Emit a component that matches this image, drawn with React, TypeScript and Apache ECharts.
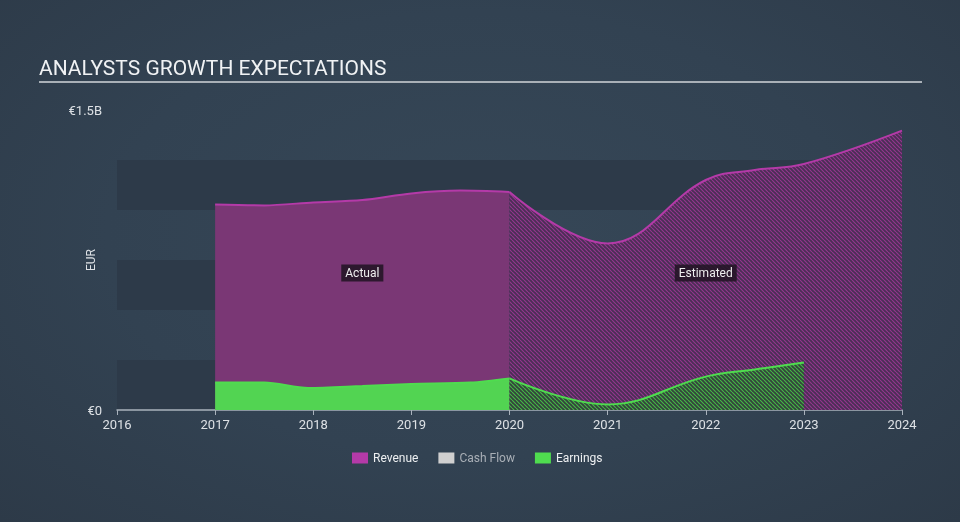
import React, { useEffect, useRef } from 'react';
import * as echarts from 'echarts';

// Values in € billions
const yearsActual = [2017, 2017.5, 2018, 2018.5, 2019, 2019.5, 2020];
const revenueActual = [1.028, 1.023, 1.038, 1.05, 1.083, 1.097, 1.09];
const earningsYearsActual = [2017, 2017.5, 2017.95, 2018.5, 2019, 2019.6, 2020];
const earningsActual = [0.138, 0.138, 0.11, 0.12, 0.13, 0.137, 0.158];
const yearsEstimated = [2020, 2021, 2022, 2022.5, 2023, 2024];
const revenueEstimated = [1.09, 0.833, 1.15, 1.2, 1.23, 1.397];
const earningsYearsEstimated = [2020, 2021, 2022, 2022.5, 2023];
const earningsEstimated = [0.158, 0.028, 0.167, 0.203, 0.237];
const legendNames = ['Revenue', 'Cash Flow', 'Earnings'];
const periodLabels = ['Actual', 'Estimated'];
const periodLabelCoords = [[2018.5, 0.685], [2022, 0.685]];

const FONT = 'Roboto, "Noto Sans", sans-serif';
const PURPLE = '#b43aa8';
const GREEN = '#4fdc4f';

function hatch(bg: string, fg: string, lw: number) {
  const s = 4;
  const c = document.createElement('canvas');
  c.width = s;
  c.height = s;
  const ctx = c.getContext('2d')!;
  ctx.fillStyle = bg;
  ctx.fillRect(0, 0, s, s);
  ctx.strokeStyle = fg;
  ctx.lineWidth = lw;
  ctx.beginPath();
  for (const k of [-1, 0, 1]) {
    ctx.moveTo(k * s, 0);
    ctx.lineTo(k * s + s, s);
  }
  ctx.stroke();
  return { image: c, repeat: 'repeat' } as any;
}

const zip = (xs: number[], ys: number[]) => xs.map((x, i) => [x, ys[i]]);

export default function App() {
  const ref = useRef<HTMLDivElement>(null);
  useEffect(() => {
    if (!ref.current) return;
    const chart = echarts.init(ref.current, undefined, { renderer: 'svg' });
    const labelStyle = {
      show: true,
      position: 'inside',
      color: '#eeeeee',
      fontSize: 12,
      fontFamily: FONT,
      backgroundColor: 'rgba(34,20,36,0.88)',
      padding: [3, 4, 2, 4],
    };
    chart.setOption({
      animation: false,
      backgroundColor: 'transparent',
      textStyle: { fontFamily: FONT },
      graphic: [
        {
          type: 'text',
          left: 39,
          top: 57,
          style: { text: 'ANALYSTS GROWTH EXPECTATIONS', fill: '#f0f2f4', font: `21px ${FONT}` },
        },
        { type: 'rect', shape: { x: 39, y: 81, width: 883, height: 2 }, style: { fill: '#a9b0b7' } },
      ],
      grid: { left: 117, right: 58, top: 110, bottom: 112 },
      legend: {
        left: 352,
        top: 452,
        padding: 0,
        icon: 'rect',
        itemWidth: 16,
        itemHeight: 11,
        itemGap: 20,
        textStyle: { color: '#eef0f2', fontSize: 12, fontFamily: FONT },
        data: [
          { name: legendNames[0], itemStyle: { color: PURPLE } },
          { name: legendNames[1], itemStyle: { color: '#d0d0d0' }, textStyle: { color: '#a9afb6' } },
          { name: legendNames[2], itemStyle: { color: GREEN } },
        ],
      },
      xAxis: {
        type: 'value',
        min: 2016,
        max: 2024,
        interval: 1,
        axisLine: { lineStyle: { color: '#a9b2bc', width: 1.5 } },
        axisTick: { show: true, length: 5, lineStyle: { color: '#a9b2bc' } },
        axisLabel: { color: '#dde1e5', fontSize: 13, margin: 8, formatter: (v: number) => String(v) },
        splitLine: { show: false },
      },
      yAxis: {
        type: 'value',
        min: 0,
        max: 1.5,
        interval: 0.25,
        name: 'EUR',
        nameLocation: 'middle',
        nameRotate: 90,
        nameGap: 20,
        nameMoveOverlap: false,
        nameTextStyle: { color: '#dde1e5', fontSize: 12, fontFamily: FONT },
        axisLine: { show: false },
        axisTick: { show: false },
        axisLabel: {
          color: '#dde1e5',
          fontSize: 13,
          margin: 15,
          formatter: (v: number) => (v === 0 ? '€0' : Math.abs(v - 1.5) < 1e-6 ? '€1.5B' : ''),
        },
        splitLine: { show: false },
        splitArea: { show: true, areaStyle: { color: ['#2d3a49', 'rgba(0,0,0,0)'] } },
      },
      series: [
        {
          name: legendNames[0],
          type: 'line',
          data: zip(yearsActual, revenueActual),
          smooth: 0.3,
          symbol: 'none',
          itemStyle: { color: PURPLE },
          lineStyle: { color: PURPLE, width: 2 },
          areaStyle: { color: '#7a3775', opacity: 1 },
          z: 2,
          markPoint: {
            symbol: 'rect',
            symbolSize: 1,
            itemStyle: { color: 'rgba(0,0,0,0)' },
            label: { ...labelStyle, formatter: periodLabels[0] },
            data: [{ name: periodLabels[0], coord: periodLabelCoords[0] }],
          },
        },
        {
          name: legendNames[0],
          type: 'line',
          data: zip(yearsEstimated, revenueEstimated),
          smooth: 0.4,
          symbol: 'none',
          itemStyle: { color: PURPLE },
          lineStyle: { color: PURPLE, width: 2 },
          areaStyle: { color: hatch('#4a2f55', '#94368e', 1.2), opacity: 1 },
          z: 2,
          markPoint: {
            symbol: 'rect',
            symbolSize: 1,
            itemStyle: { color: 'rgba(0,0,0,0)' },
            label: { ...labelStyle, formatter: periodLabels[1] },
            data: [{ name: periodLabels[1], coord: periodLabelCoords[1] }],
          },
        },
        {
          name: legendNames[1],
          type: 'line',
          data: [],
          symbol: 'none',
          itemStyle: { color: '#d0d0d0' },
        },
        {
          name: legendNames[2],
          type: 'line',
          data: zip(earningsYearsActual, earningsActual),
          smooth: 0.3,
          symbol: 'none',
          itemStyle: { color: GREEN },
          lineStyle: { color: GREEN, width: 2 },
          areaStyle: { color: '#52d452', opacity: 1 },
          z: 3,
        },
        {
          name: legendNames[2],
          type: 'line',
          data: zip(earningsYearsEstimated, earningsEstimated),
          smooth: 0.4,
          symbol: 'none',
          itemStyle: { color: GREEN },
          lineStyle: { color: GREEN, width: 2 },
          areaStyle: { color: hatch('#34433d', '#45b845', 1.2), opacity: 1 },
          z: 3,
        },
      ],
    });
    return () => chart.dispose();
  }, []);
  return (
    <div
      style={{
        position: 'fixed',
        left: 0,
        top: 0,
        width: 960,
        height: 522,
        background: 'radial-gradient(ellipse at 50% 45%, #364757 0%, #324252 55%, #2d3a48 100%)',
      }}
    >
      <div ref={ref} style={{ width: 960, height: 522 }} />
    </div>
  );
}
